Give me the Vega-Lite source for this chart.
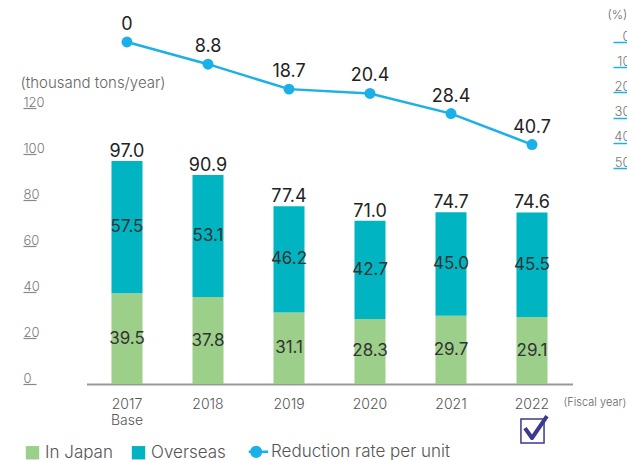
{
  "$schema": "https://vega.github.io/schema/vega-lite/v6.json",
  "width": 604,
  "height": 342,
  "autosize": {"type": "none"},
  "padding": {"left": 23, "top": 42, "right": 0, "bottom": 76},
  "config": {
    "font": "Inter",
    "view": {"stroke": null},
    "axis": {"grid": false}
  },
  "datasets": {
    "segments": [
      {"year": "2017", "region": "In Japan", "value": 39.5},
      {"year": "2017", "region": "Overseas", "value": 57.5},
      {"year": "2018", "region": "In Japan", "value": 37.8},
      {"year": "2018", "region": "Overseas", "value": 53.1},
      {"year": "2019", "region": "In Japan", "value": 31.1},
      {"year": "2019", "region": "Overseas", "value": 46.2},
      {"year": "2020", "region": "In Japan", "value": 28.3},
      {"year": "2020", "region": "Overseas", "value": 42.7},
      {"year": "2021", "region": "In Japan", "value": 29.7},
      {"year": "2021", "region": "Overseas", "value": 45.0},
      {"year": "2022", "region": "In Japan", "value": 29.1},
      {"year": "2022", "region": "Overseas", "value": 45.5}
    ],
    "years": [
      {"year": "2017", "total": 97.0, "rate": 0},
      {"year": "2018", "total": 90.9, "rate": 8.8},
      {"year": "2019", "total": 77.4, "rate": 18.7},
      {"year": "2020", "total": 71.0, "rate": 20.4},
      {"year": "2021", "total": 74.7, "rate": 28.4},
      {"year": "2022", "total": 74.6, "rate": 40.7}
    ]
  },
  "encoding": {
    "x": {
      "field": "year",
      "type": "nominal",
      "sort": null,
      "scale": {"range": [63.5, 549.5], "paddingInner": 0.617, "paddingOuter": 0.3085, "align": 0.5},
      "axis": {
        "title": "(Fiscal year)",
        "labelAngle": 0,
        "domainColor": "#999999",
        "domainWidth": 2,
        "ticks": false,
        "labelPadding": 13,
        "labelFontSize": 14,
        "labelFontWeight": 300,
        "labelColor": "#555555",
        "labelLineHeight": 16,
        "labelExpr": "datum.value === '2017' ? ['2017', 'Base'] : datum.value",
        "titleX": 540,
        "titleY": 18,
        "titleAlign": "left",
        "titleBaseline": "middle",
        "titleFontSize": 11,
        "titleFontWeight": 300,
        "titleColor": "#666666"
      }
    }
  },
  "layer": [
    {
      "layer": [
        {
          "data": {"name": "segments"},
          "mark": {"type": "bar"},
          "encoding": {
            "y": {
              "field": "value",
              "type": "quantitative",
              "stack": "zero",
              "scale": {"domain": [0, 148.7], "nice": false, "zero": true},
              "axis": {
                "orient": "left",
                "offset": -13,
                "values": [0, 20, 40, 60, 80, 100, 120],
                "domain": false,
                "tickSize": 13,
                "tickColor": "#888888",
                "tickWidth": 1.2,
                "labelAlign": "left",
                "labelBaseline": "alphabetic",
                "labelPadding": 0,
                "labelOffset": -2,
                "labelFontSize": 13,
                "labelFontWeight": 300,
                "labelColor": "#777777",
                "title": "(thousand tons/year)",
                "titleAngle": 0,
                "titleAlign": "left",
                "titleBaseline": "middle",
                "titleX": -16,
                "titleY": 40,
                "titleFontSize": 15,
                "titleFontWeight": 300,
                "titleColor": "#666666"
              }
            },
            "color": {
              "field": "region",
              "type": "nominal",
              "scale": {
                "domain": ["In Japan", "Overseas", "Reduction rate per unit"],
                "range": ["#9ccf8a", "#00b5c1", "#1cb0e8"]
              },
              "legend": {
                "orient": "none",
                "legendX": 1,
                "legendY": 401,
                "direction": "horizontal",
                "title": null,
                "symbolSize": 180,
                "symbolType": "square",
                "labelFontSize": 17,
                "labelFontWeight": 300,
                "labelColor": "#555555",
                "labelOffset": 4,
                "labelLimit": 400,
                "columnPadding": 17,
                "encode": {
                  "symbols": {
                    "update": {
                      "shape": {"signal": "datum.label === 'Reduction rate per unit' ? 'M-1.6,0H-1.28M0.28,0H1.3M-1.22,0A0.72,0.72 0 1,1 0.22,0A0.72,0.72 0 1,1 -1.22,0Z' : 'square'"},
                      "size": {"value": 180},
                      "stroke": {"signal": "datum.label === 'Reduction rate per unit' ? '#1cb0e8' : 'transparent'"},
                      "strokeWidth": {"signal": "datum.label === 'Reduction rate per unit' ? 2.5 : 0"},
                      "fill": {"scale": "color", "field": "value"},
                      "opacity": {"value": 1}
                    }
                  },
                  "labels": {
                    "update": {
                      "dx": {"signal": "datum.label === 'Reduction rate per unit' ? -1 : 0"}
                    }
                  }
                }
              }
            },
            "order": {"field": "region", "type": "ordinal", "sort": "ascending"}
          }
        },
        {
          "data": {"name": "segments"},
          "transform": [
            {"stack": "value", "groupby": ["year"], "sort": [{"field": "region", "order": "ascending"}], "as": ["y0", "y1"]},
            {"fold": ["y0", "y1"], "as": ["end", "pos"]}
          ],
          "mark": {"type": "text", "fontSize": 17, "color": "#333333", "baseline": "middle"},
          "encoding": {
            "y": {"aggregate": "mean", "field": "pos", "type": "quantitative", "scale": {"domain": [0, 148.7], "nice": false}},
            "text": {"field": "value", "type": "quantitative", "format": ".1f"},
            "detail": {"field": "region"}
          }
        },
        {
          "data": {"name": "years"},
          "mark": {"type": "text", "fontSize": 18, "color": "#222222", "baseline": "alphabetic", "dy": -4},
          "encoding": {
            "y": {"field": "total", "type": "quantitative", "scale": {"domain": [0, 148.7], "nice": false}},
            "text": {"field": "total", "type": "quantitative", "format": ".1f"}
          }
        },
        {
          "data": {"values": [{"year": "2022"}]},
          "mark": {"type": "point", "shape": "M-0.79,-0.86H0.86V0.86H-0.79Z", "size": 784, "filled": false, "color": "#3b3a8f", "strokeWidth": 1.5, "opacity": 1, "yOffset": 47},
          "encoding": {
            "y": {"datum": 0, "type": "quantitative", "scale": {"domain": [0, 148.7], "nice": false}}
          }
        },
        {
          "data": {"values": [{"year": "2022"}]},
          "mark": {"type": "point", "shape": "M-0.5,-0.21L0,0.5L1.07,-1.07", "size": 784, "filled": false, "color": "#3b3a8f", "strokeWidth": 4, "strokeJoin": "round", "opacity": 1, "yOffset": 47},
          "encoding": {
            "y": {"datum": 0, "type": "quantitative", "scale": {"domain": [0, 148.7], "nice": false}}
          }
        }
      ]
    },
    {
      "data": {"name": "years"},
      "layer": [
        {
          "mark": {"type": "line", "strokeWidth": 2.5},
          "encoding": {
            "y": {
              "field": "rate",
              "type": "quantitative",
              "scale": {"domain": [0, 135.7], "reverse": true, "nice": false},
              "axis": {
                "orient": "right",
                "offset": -14,
                "values": [0, 10, 20, 30, 40, 50],
                "domain": false,
                "tickSize": 17,
                "tickColor": "#1cb0e8",
                "tickWidth": 1.5,
                "labelAlign": "right",
                "labelBaseline": "alphabetic",
                "labelPadding": 0,
                "labelOffset": -2,
                "labelFontSize": 13,
                "labelFontWeight": 300,
                "labelColor": "#777777",
                "title": "(%)",
                "titleAngle": 0,
                "titleAlign": "left",
                "titleBaseline": "middle",
                "titleX": -6,
                "titleY": -28,
                "titleFontSize": 12,
                "titleFontWeight": 300,
                "titleColor": "#666666"
              }
            },
            "color": {"datum": "Reduction rate per unit", "type": "nominal"}
          }
        },
        {
          "mark": {"type": "point", "filled": true, "size": 120, "opacity": 1, "color": "#1cb0e8"},
          "encoding": {
            "y": {"field": "rate", "type": "quantitative", "scale": {"domain": [0, 135.7], "reverse": true, "nice": false}}
          }
        },
        {
          "mark": {"type": "text", "fontSize": 18, "color": "#222222", "baseline": "middle", "dy": -17},
          "encoding": {
            "y": {"field": "rate", "type": "quantitative", "scale": {"domain": [0, 135.7], "reverse": true, "nice": false}},
            "text": {"field": "rate", "type": "quantitative"}
          }
        }
      ]
    }
  ],
  "resolve": {"scale": {"y": "independent"}}
}
